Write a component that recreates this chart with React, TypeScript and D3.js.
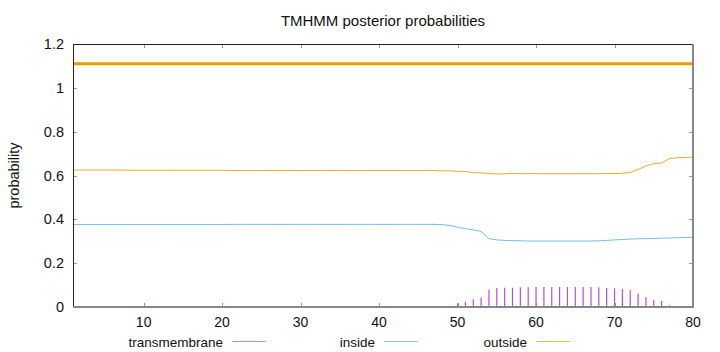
import React from "react";
import * as d3 from "d3";

const positions: number[] = d3.range(1, 81);

const insideProb: number[] = [
  0.376, 0.376, 0.376, 0.376, 0.376, 0.376, 0.376, 0.376, 0.376, 0.376,
  0.376, 0.376, 0.376, 0.376, 0.376, 0.376, 0.376, 0.376, 0.376, 0.376,
  0.377, 0.377, 0.377, 0.377, 0.377, 0.377, 0.377, 0.377, 0.377, 0.377,
  0.377, 0.377, 0.377, 0.377, 0.377, 0.377, 0.377, 0.377, 0.377, 0.377,
  0.377, 0.377, 0.377, 0.377, 0.377, 0.377, 0.377, 0.376, 0.372, 0.364,
  0.358, 0.352, 0.345, 0.312, 0.306, 0.304, 0.303, 0.302, 0.301, 0.301,
  0.301, 0.301, 0.301, 0.301, 0.301, 0.301, 0.301, 0.302, 0.304, 0.306,
  0.308, 0.310, 0.311, 0.312, 0.313, 0.314, 0.315, 0.316, 0.317, 0.318,
];

const outsideProb: number[] = [
  0.625, 0.625, 0.625, 0.625, 0.625, 0.625, 0.625, 0.624, 0.624, 0.624,
  0.624, 0.624, 0.624, 0.624, 0.624, 0.624, 0.624, 0.624, 0.624, 0.624,
  0.623, 0.623, 0.623, 0.623, 0.623, 0.623, 0.623, 0.623, 0.623, 0.623,
  0.623, 0.623, 0.623, 0.623, 0.623, 0.623, 0.623, 0.623, 0.623, 0.623,
  0.623, 0.623, 0.623, 0.623, 0.623, 0.623, 0.623, 0.621, 0.622, 0.619,
  0.618, 0.613, 0.612, 0.609, 0.607, 0.608, 0.609, 0.608, 0.609, 0.608,
  0.608, 0.608, 0.608, 0.608, 0.608, 0.608, 0.608, 0.608, 0.609, 0.609,
  0.610, 0.614, 0.627, 0.644, 0.654, 0.657, 0.677, 0.681, 0.682, 0.684,
];

const tmProb: number[] = [
  0, 0, 0, 0, 0, 0, 0, 0, 0, 0,
  0, 0, 0, 0, 0, 0, 0, 0, 0, 0,
  0, 0, 0, 0, 0, 0, 0, 0, 0, 0,
  0, 0, 0, 0, 0, 0, 0, 0, 0, 0,
  0, 0, 0, 0, 0, 0, 0, 0.003, 0.006, 0.017,
  0.024, 0.035, 0.043, 0.079, 0.087, 0.088, 0.088, 0.090, 0.090, 0.091,
  0.091, 0.091, 0.091, 0.091, 0.091, 0.091, 0.091, 0.090, 0.087, 0.085,
  0.082, 0.076, 0.062, 0.044, 0.033, 0.029, 0.008, 0.003, 0.001, 0,
];

// topology segment drawn at the top of the plot
const topologySegments = [{ start: 1, end: 80, level: 1.11, kind: "outside" }];

const xTicks: number[] = [10, 20, 30, 40, 50, 60, 70, 80];
const yTicks: number[] = [0, 0.2, 0.4, 0.6, 0.8, 1, 1.2];
const yTickLabels: string[] = ["0", "0.2", "0.4", "0.6", "0.8", "1", "1.2"];

const seriesNames = ["transmembrane", "inside", "outside"];
const title = "TMHMM posterior probabilities";
const yLabel = "probability";

const COLORS: Record<string, string> = {
  transmembrane: "#b84be0",
  inside: "#56b4e9",
  outside: "#e69f00",
};

export default function App() {
  const W = 720;
  const H = 352;
  const left = 73;
  const right = 693;
  const top = 44;
  const bottom = 307;
  const font = "'Liberation Sans', Arial, Helvetica, sans-serif";

  const x = d3.scaleLinear().domain([1, 80]).range([left, right]);
  const y = d3.scaleLinear().domain([0, 1.2]).range([bottom, top]);

  const lineGen = d3
    .line<number>()
    .x((_, i) => x(positions[i]))
    .y((d) => y(d));

  const legendX = [223, 375, 527];

  return (
    <svg
      width={W}
      height={H}
      style={{ position: "absolute", left: 0, top: 0, background: "#fff" }}
      fontFamily={font}
    >
      <rect x={0} y={0} width={W} height={H} fill="#fff" />
      <text x={(left + right) / 2} y={26} textAnchor="middle" fontSize={15} fill="#111">
        {title}
      </text>

      {/* y ticks */}
      {yTicks.map((t, i) => (
        <g key={"y" + i}>
          <line x1={left} x2={left + 4} y1={Math.round(y(t)) + 0.5} y2={Math.round(y(t)) + 0.5} stroke="#999" />
          <line x1={right - 4} x2={right} y1={Math.round(y(t)) + 0.5} y2={Math.round(y(t)) + 0.5} stroke="#999" />
          <text x={64} y={y(t) + 5} textAnchor="end" fontSize={14.5} fill="#111">
            {yTickLabels[i]}
          </text>
        </g>
      ))}

      {/* x ticks */}
      {xTicks.map((t) => (
        <g key={"x" + t}>
          <line x1={Math.round(x(t)) + 0.5} x2={Math.round(x(t)) + 0.5} y1={bottom} y2={bottom - 4} stroke="#999" />
          <line x1={Math.round(x(t)) + 0.5} x2={Math.round(x(t)) + 0.5} y1={top} y2={top + 4} stroke="#999" />
          <text x={x(t)} y={327} textAnchor="middle" fontSize={14} fill="#111">
            {t}
          </text>
        </g>
      ))}

      <text
        transform={`translate(19, ${(top + bottom) / 2}) rotate(-90)`}
        textAnchor="middle"
        fontSize={14.5}
        fill="#111"
      >
        {yLabel}
      </text>

      {/* transmembrane impulses */}
      {tmProb.map((v, i) =>
        v > 0 ? (
          <line
            key={"imp" + i}
            x1={x(positions[i])}
            x2={x(positions[i])}
            y1={y(0)}
            y2={y(v)}
            stroke={COLORS.transmembrane}
            strokeWidth={1.2}
          />
        ) : null
      )}

      {/* inside & outside lines */}
      <path d={lineGen(insideProb) || ""} fill="none" stroke={COLORS.inside} strokeWidth={1} strokeOpacity={0.85} />
      <path d={lineGen(outsideProb) || ""} fill="none" stroke={COLORS.outside} strokeWidth={1} strokeOpacity={0.85} />

      {/* topology */}
      {topologySegments.map((s, i) => (
        <line
          key={"seg" + i}
          x1={x(s.start)}
          x2={x(s.end)}
          y1={y(s.level)}
          y2={y(s.level)}
          stroke={COLORS[s.kind]}
          strokeWidth={3}
        />
      ))}

      {/* frame */}
      <line x1={left + 0.5} x2={left + 0.5} y1={top} y2={bottom} stroke="#222" />
      <line x1={left} x2={right} y1={top + 0.5} y2={top + 0.5} stroke="#222" />
      <line x1={right} x2={right} y1={top} y2={bottom + 1} stroke="#888" strokeWidth={2} />
      <line x1={left} x2={right + 1} y1={bottom} y2={bottom} stroke="#888" strokeWidth={2} />

      {/* legend */}
      {seriesNames.map((n, i) => (
        <g key={"lg" + n}>
          <text x={legendX[i]} y={346.5} textAnchor="end" fontSize={13.5} fill="#111">
            {n}
          </text>
          <line
            x1={legendX[i] + 9}
            x2={legendX[i] + 43}
            y1={341.5}
            y2={341.5}
            stroke={COLORS[n]}
            strokeWidth={1}
            strokeOpacity={0.7}
          />
        </g>
      ))}
    </svg>
  );
}
